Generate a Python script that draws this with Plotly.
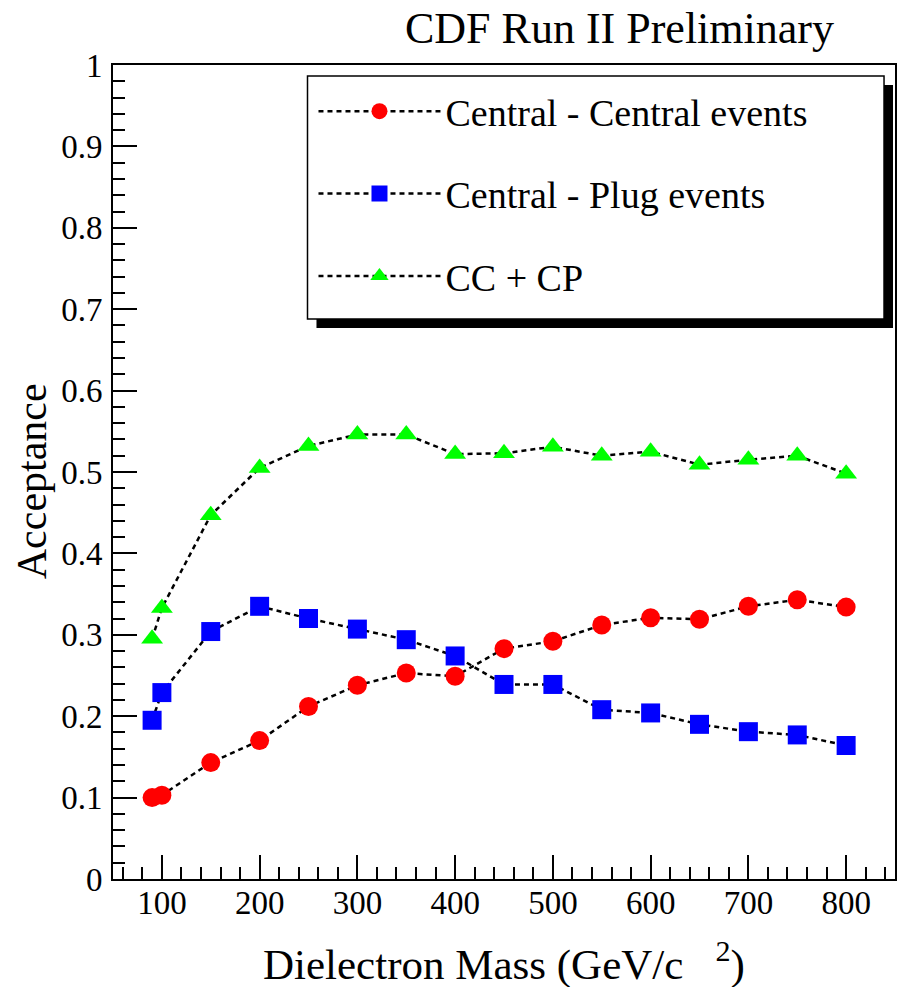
import plotly.graph_objects as go

# Data
mass = [90, 100, 150, 200, 250, 300, 350, 400, 450, 500, 550, 600, 650, 700, 750, 800]
cc_acc = [0.100, 0.103, 0.143, 0.170, 0.212, 0.238, 0.253, 0.249, 0.283, 0.292,
          0.312, 0.321, 0.319, 0.335, 0.343, 0.334]
cp_acc = [0.195, 0.229, 0.304, 0.335, 0.320, 0.307, 0.294, 0.274, 0.239, 0.239,
          0.208, 0.204, 0.190, 0.181, 0.177, 0.164]
sum_acc = [0.295, 0.333, 0.447, 0.505, 0.532, 0.546, 0.546, 0.522, 0.523, 0.531,
           0.520, 0.525, 0.509, 0.515, 0.520, 0.498]

series_names = ["Central - Central events", "Central - Plug events", "CC + CP"]
series_values = [cc_acc, cp_acc, sum_acc]
series_colors = ["#ff0000", "#0000ff", "#00ff00"]
series_symbols = ["circle", "square", "triangle-up"]

FONT = '"Liberation Serif", "Times New Roman", Times, serif'

fig = go.Figure()
for i, (name, vals, col, sym) in enumerate(zip(series_names, series_values, series_colors, series_symbols)):
    fig.add_trace(go.Scatter(
        x=mass, y=vals, name=name, mode="lines+markers",
        legendgroup=f"g{i}",
        line=dict(color="black", width=2.5, dash="5px,4px"),
        marker=dict(symbol=sym, color=col, size=19, line=dict(width=0)),
    ))

L, R, T, B = 113, 8, 65, 108
W, H = 905, 987
pw = W - L - R
ph = H - T - B

def px2x(p):
    return (p - L) / pw

def py2y(p):
    return (H - B - p) / ph

shapes = [
    dict(type="rect", xref="paper", yref="paper",
         x0=px2x(317), x1=px2x(895), y0=py2y(328), y1=py2y(85),
         fillcolor="black", line=dict(width=0), layer="above"),
    dict(type="rect", xref="paper", yref="paper",
         x0=px2x(308), x1=px2x(886), y0=py2y(319), y1=py2y(76),
         fillcolor="white", line=dict(color="black", width=1.5), layer="above"),
]

annotations = [
    dict(text="CDF Run II Preliminary", xref="paper", yref="paper",
         x=px2x(621), y=py2y(29), xanchor="center", yanchor="middle",
         showarrow=False, font=dict(family=FONT, size=44, color="black")),
    dict(text="Dielectron Mass (GeV/c&nbsp;&nbsp;&nbsp;<sup>2</sup>)", xref="paper", yref="paper",
         x=px2x(505), y=py2y(962), xanchor="center", yanchor="middle",
         showarrow=False, font=dict(family=FONT, size=43, color="black")),
    dict(text="Acceptance", xref="paper", yref="paper", textangle=-90,
         x=px2x(32), y=py2y(481), xanchor="center", yanchor="middle",
         showarrow=False, font=dict(family=FONT, size=42, color="black")),
]

fig.update_layout(
    width=W, height=H,
    margin=dict(l=L, r=R, t=T, b=B, pad=0),
    paper_bgcolor="white", plot_bgcolor="white",
    font=dict(family=FONT, color="black"),
    shapes=shapes,
    annotations=annotations,
    showlegend=True,
    legend=dict(
        x=px2x(314), y=py2y(80), xanchor="left", yanchor="top",
        bgcolor="rgba(0,0,0,0)", borderwidth=0,
        font=dict(family=FONT, size=38, color="black"),
        traceorder="grouped", tracegroupgap=30,
        itemwidth=122,
    ),
    xaxis=dict(
        range=[50, 850], dtick=100, tick0=0,
        showline=True, linecolor="black", linewidth=2, mirror=True,
        ticks="inside", ticklen=24, tickwidth=1.5, tickcolor="black",
        minor=dict(ticks="inside", ticklen=12, dtick=20, tick0=0, tickwidth=1.5, tickcolor="black"),
        showgrid=False, zeroline=False,
        tickfont=dict(family=FONT, size=33, color="black"),
        ticklabelstandoff=-7,
    ),
    yaxis=dict(
        range=[0, 1], dtick=0.1, tick0=0,
        showline=True, linecolor="black", linewidth=2, mirror=True,
        ticks="inside", ticklen=24, tickwidth=1.5, tickcolor="black",
        minor=dict(ticks="inside", ticklen=12, dtick=0.02, tick0=0, tickwidth=1.5, tickcolor="black"),
        showgrid=False, zeroline=False,
        tickfont=dict(family=FONT, size=33, color="black"),
        ticklabelstandoff=2,
    ),
)

fig.write_html("out.html", config={"displayModeBar": False},
               post_script="document.body.style.margin='0';document.body.style.padding='0';")
